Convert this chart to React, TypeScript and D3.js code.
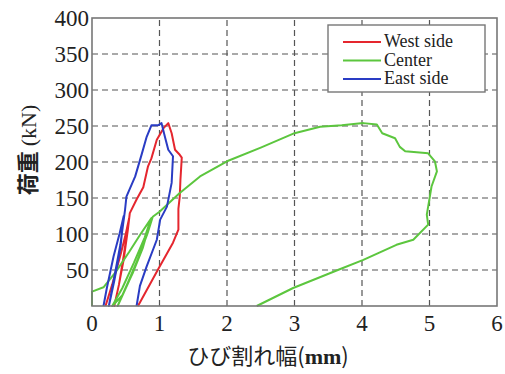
import * as d3 from "d3";

// crack width (mm) vs load (kN)
const westSide: [number, number][] = [
  [0.2, 0], [0.3, 30], [0.42, 70], [0.5, 100], [0.55, 122], [0.47, 70], [0.4, 30], [0.33, 0],
  [0.4, 30], [0.47, 65], [0.53, 105], [0.56, 129], [0.66, 148], [0.76, 165], [0.83, 194],
  [0.88, 205], [0.96, 231], [1.06, 247], [1.13, 254], [1.18, 240], [1.23, 217], [1.3, 210],
  [1.33, 206], [1.31, 175], [1.3, 152], [1.28, 135], [1.28, 106], [1.2, 88], [0.98, 51],
  [0.71, 5], [0.68, 0],
];
const center: [number, number][] = [
  [0, 0], [0, 20], [0.17, 26], [0.35, 47], [0.55, 75], [0.72, 100], [0.88, 122], [0.75, 80],
  [0.6, 45], [0.45, 15], [0.3, 0], [0.45, 25], [0.62, 60], [0.78, 95], [0.87, 120], [0.72, 75],
  [0.55, 35], [0.38, 0], [0.52, 30], [0.68, 65], [0.82, 100], [0.9, 124], [1.0, 131],
  [1.3, 157], [1.6, 180], [2.0, 201], [2.5, 220], [3.0, 240], [3.38, 249], [3.7, 251],
  [4.02, 254], [4.22, 252], [4.3, 240], [4.49, 233], [4.56, 221], [4.64, 215], [4.98, 212],
  [5.08, 201], [5.11, 187], [5.03, 166], [4.98, 138], [4.96, 127], [4.98, 113], [4.76, 92],
  [4.51, 85], [4.02, 64], [3.67, 51], [2.98, 25], [2.44, 0],
];
const eastSide: [number, number][] = [
  [0.17, 0], [0.22, 25], [0.32, 69], [0.41, 101], [0.47, 125], [0.42, 80], [0.33, 35],
  [0.25, 0], [0.33, 40], [0.42, 85], [0.49, 134], [0.51, 152], [0.64, 180], [0.74, 212],
  [0.81, 235], [0.88, 251], [0.98, 251], [1.03, 254], [1.08, 235], [1.13, 217], [1.2, 208],
  [1.18, 171], [1.11, 138], [1.01, 120], [0.96, 92], [0.81, 55], [0.71, 28], [0.66, 0],
];

const seriesNames = ["West side", "Center", "East side"];
const seriesColors = ["#e5262e", "#5cc63e", "#2a3cc4"];
const xTicks = [0, 1, 2, 3, 4, 5, 6];
const yTicks = [0, 50, 100, 150, 200, 250, 300, 350, 400];

const width = 505, height = 374;
const margin = { top: 18, right: 8, bottom: 68, left: 92 };
const serif = "'Liberation Serif', 'Times New Roman', serif";
const jp = "'Noto Sans CJK JP', sans-serif";

const App = () => {
  const x = d3.scaleLinear().domain([0, 6]).range([margin.left, width - margin.right]);
  const y = d3.scaleLinear().domain([0, 400]).range([height - margin.bottom, margin.top]);
  const line = d3.line<[number, number]>().x(d => x(d[0])).y(d => y(d[1]));
  const series = [westSide, center, eastSide];

  return (
    <svg width={width} height={height} style={{ position: "absolute", left: 0, top: 0 }}>
      {/* dashed grid */}
      {xTicks.slice(1, -1).map(t => (
        <line key={"gx" + t} x1={x(t)} x2={x(t)} y1={y(0)} y2={y(400)}
          stroke="#555" strokeWidth={1.2} strokeDasharray="6,4" />
      ))}
      {yTicks.slice(1, -1).map(t => (
        <line key={"gy" + t} x1={x(0)} x2={x(6)} y1={y(t)} y2={y(t)}
          stroke="#555" strokeWidth={1.2} strokeDasharray="6,4" />
      ))}

      {series.map((d, i) => (
        <path key={i} d={line(d) ?? ""} fill="none" stroke={seriesColors[i]}
          strokeWidth={2} strokeLinejoin="round" />
      ))}

      <rect x={x(0)} y={y(400)} width={x(6) - x(0)} height={y(0) - y(400)}
        fill="none" stroke="#777" strokeWidth={1.6} />

      {xTicks.map(t => (
        <text key={"tx" + t} x={x(t)} y={y(0) + 25} textAnchor="middle"
          style={{ fontFamily: serif, fontSize: "23px" }} fill="#222">{t}</text>
      ))}
      {yTicks.slice(1).map(t => (
        <text key={"ty" + t} x={x(0) - 3} y={y(t) + 8} textAnchor="end"
          style={{ fontFamily: serif, fontSize: "23px" }} fill="#222">{t}</text>
      ))}

      <text x={268} y={364} textAnchor="middle" fill="#222" style={{ fontSize: "22px" }}>
        <tspan style={{ fontFamily: jp }}>ひび割れ幅(</tspan>
        <tspan style={{ fontFamily: serif, fontWeight: "bold" }}>mm</tspan>
        <tspan style={{ fontFamily: jp }}>)</tspan>
      </text>

      <text transform="translate(36,150) rotate(-90)" textAnchor="middle" fill="#222"
        style={{ fontSize: "22px" }}>
        <tspan style={{ fontFamily: jp, fontWeight: "bold" }}>荷重 </tspan>
        <tspan style={{ fontFamily: serif }}>(kN)</tspan>
      </text>

      <g transform="translate(328,25)">
        <rect width={157} height={67} fill="#fff" stroke="#777" strokeWidth={1.4} />
        {seriesNames.map((name, i) => (
          <g key={name} transform={`translate(0,${17 + i * 18.5})`}>
            <line x1={15} x2={53} stroke={seriesColors[i]} strokeWidth={2} />
            <text x={56} y={5} fill="#222" style={{ fontFamily: serif, fontSize: "18px" }}>{name}</text>
          </g>
        ))}
      </g>
    </svg>
  );
};

export default App;
